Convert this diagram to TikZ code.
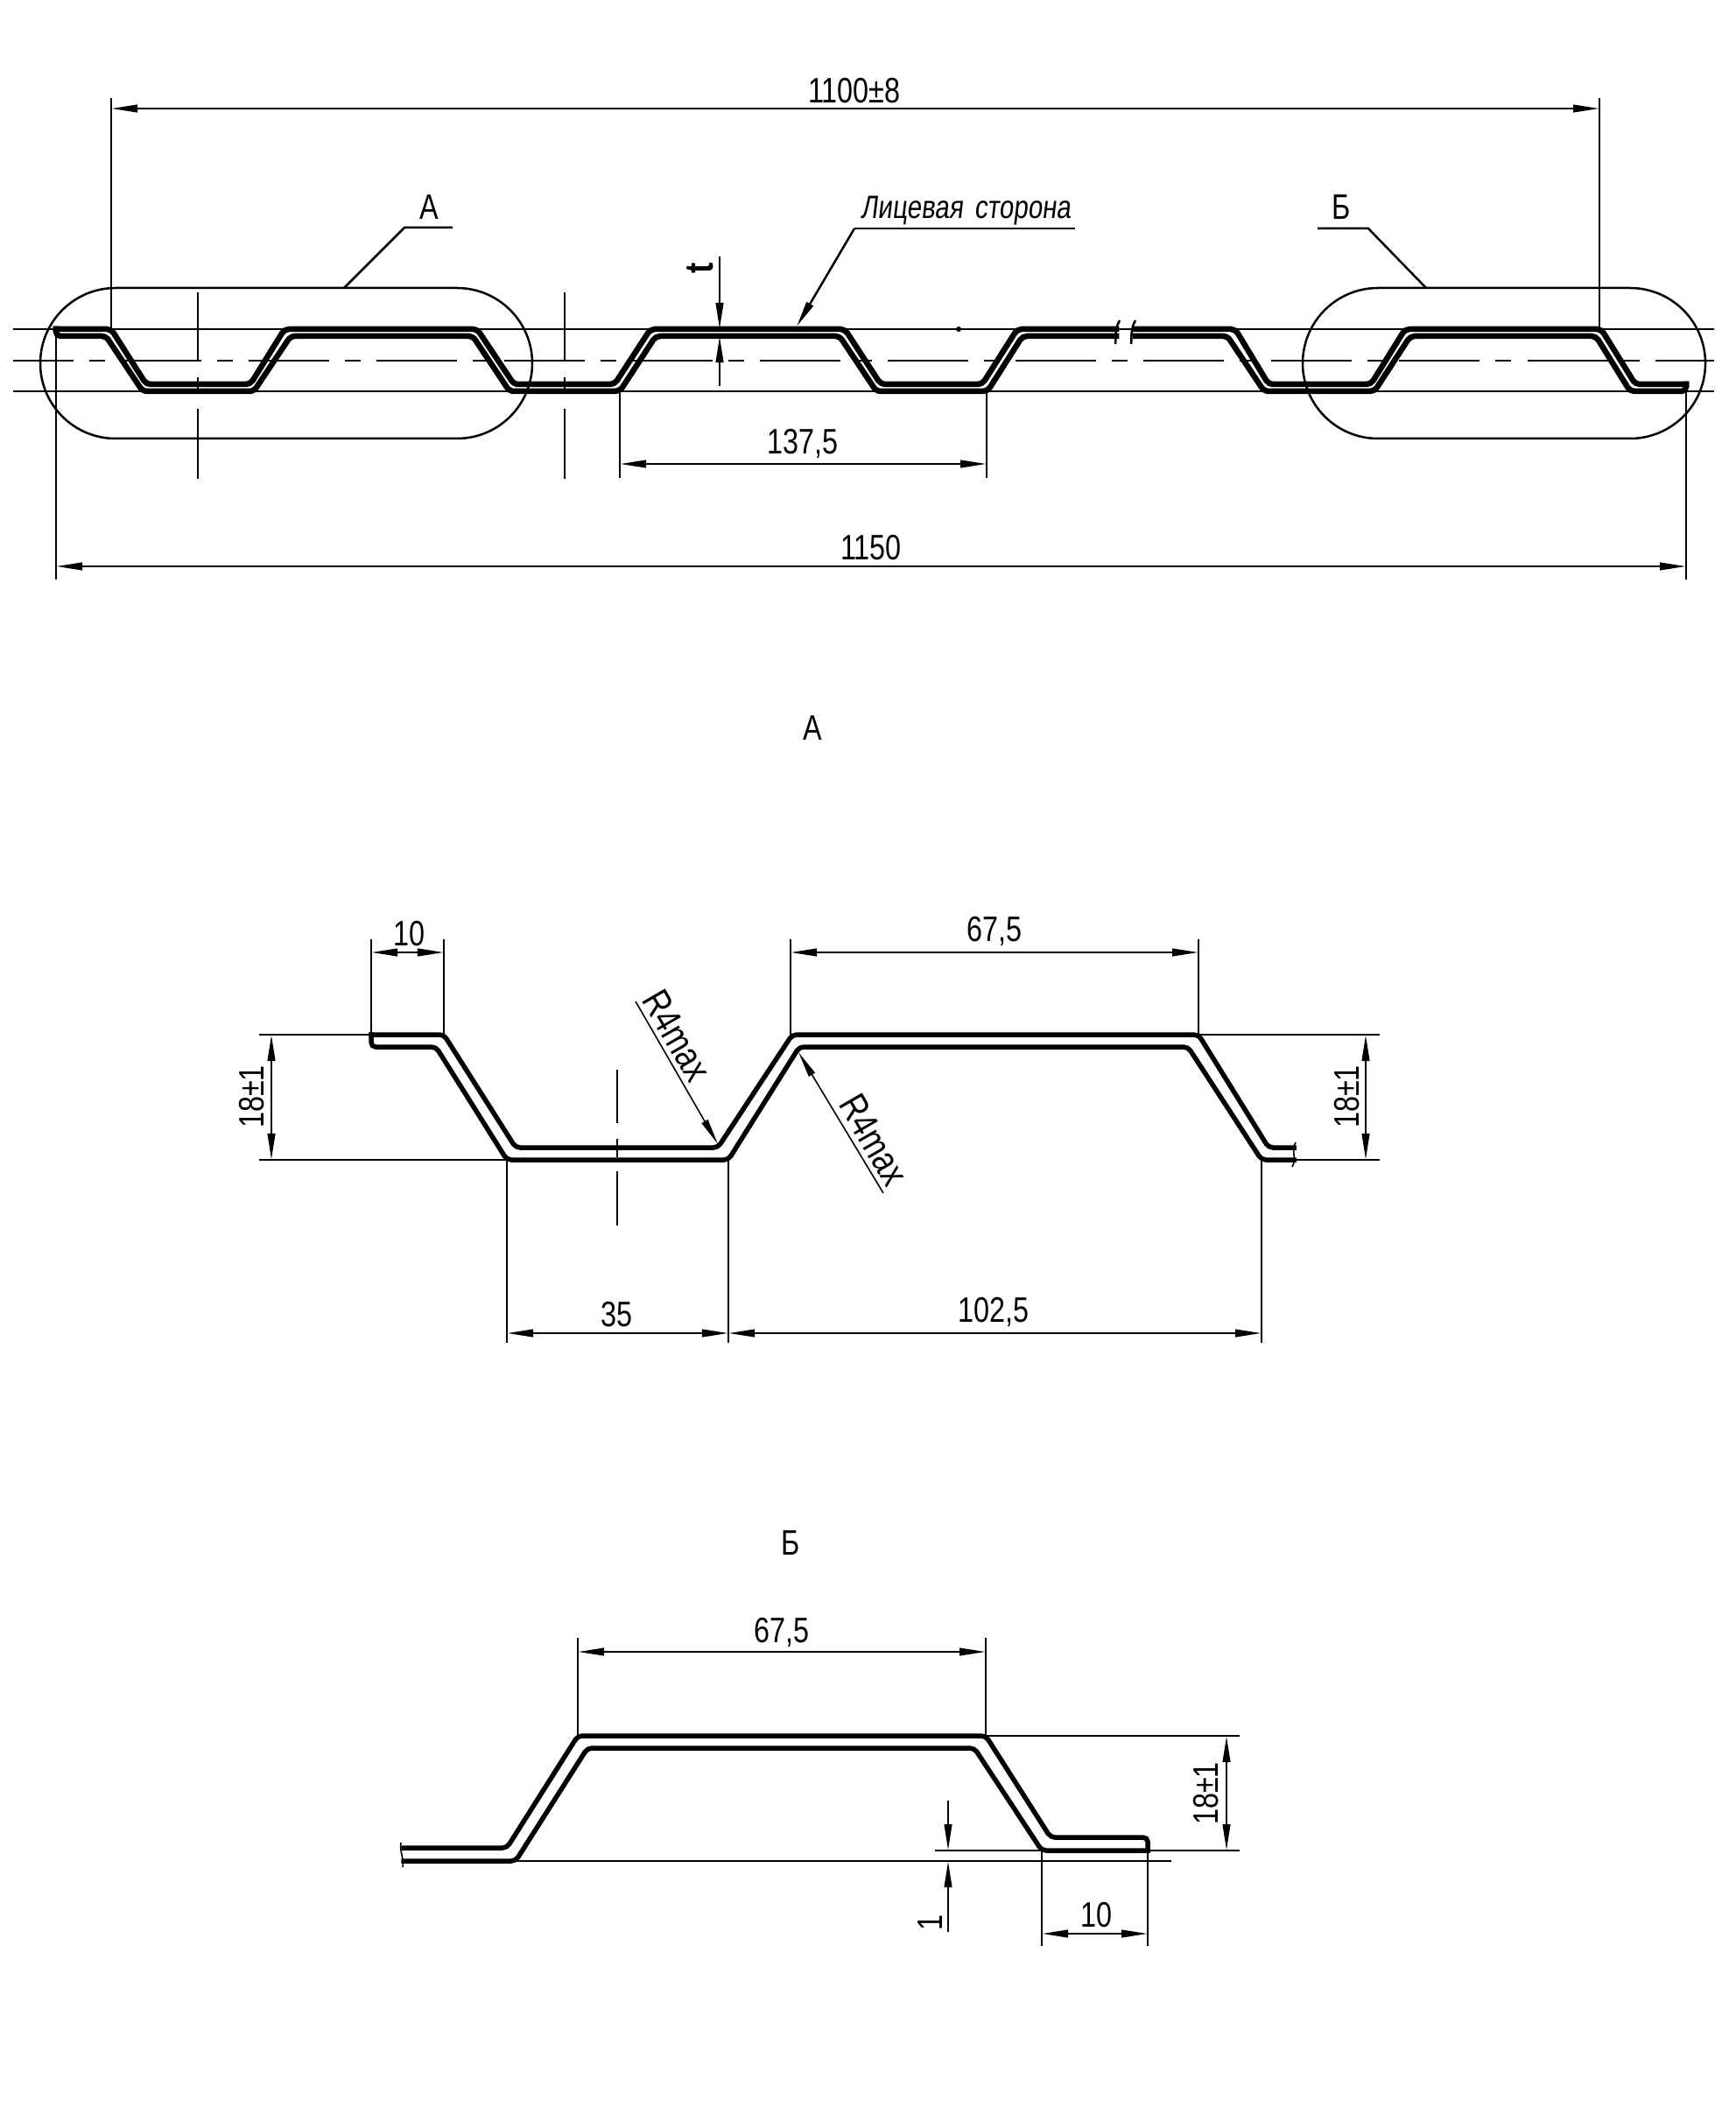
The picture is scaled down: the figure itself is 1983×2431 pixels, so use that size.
\documentclass[tikz,border=0pt]{standalone}
\usepackage{fontspec}
\usepackage{tikz}
\usetikzlibrary{arrows.meta}
\newfontfamily\gostfont[FakeStretch=0.8]{Liberation Sans}
\newfontfamily\gostslant[FakeStretch=0.8,FakeSlant=0.12,WordSpace=1.6]{Liberation Sans}

\tikzset{
	thinline/.style={line width=.025cm},
	hairline/.style={line width=.016cm},
	sheet/.style={line width=#1,rounded corners=.05cm,line cap=rect},
	sheet/.default=.055cm,
	dimline/.style={thinline,{Triangle[length=.3cm,width=.085cm]}-{Triangle[length=.3cm,width=.085cm]}},
	leaderline/.style={thinline,-{Triangle[length=.3cm,width=.085cm]}},
	radiusline/.style={hairline,-{Triangle[length=.3cm,width=.08cm]}},
	axisline/.style={thinline,dash pattern=on .92cm off .18cm on .18cm off .18cm,dash phase=.235cm},
	dimtext/.style={font=\gostfont\fontsize{11.5}{12}\selectfont,inner sep=0pt},
	radiustext/.style={font=\gostfont\fontsize{12.5}{13}\selectfont,inner sep=0pt,rotate=-60},
}

\begin{document}
\begin{tikzpicture}[x=.01cm,y=-.01cm]
	\useasboundingbox (0,0) rectangle (1983,2431);

	% dimension ends of the whole sheet
	\coordinate[] (w1) at (127,124);
	\coordinate[] (w2) at (1827,124);
	\coordinate[] (l1) at (64,647);
	\coordinate[] (l2) at (1926,647);
	\coordinate[] (p1) at (708,530);
	\coordinate[] (p2) at (1127,530);

	% thin lines along the sheet
	\draw[thinline] (15,376) -- (1958,376);
	\draw[thinline] (15,447) -- (1958,447);
	\draw[axisline] (15,412) -- (1958,412);

	% upper line of the sheet
	\draw[sheet=.065cm] (64,376) -- (127,376) -- (167,439) -- (286,439) -- (325,376) -- (545,376) -- (587,439) -- (702,439) -- (743,376) -- (965,376) -- (1006,439) -- (1122,439) -- (1162,376) -- (1275,376);
	\draw[sheet=.065cm] (1297,376) -- (1411,376) -- (1449,439) -- (1566,439) -- (1605,376) -- (1829,376) -- (1868,439) -- (1926,439);
	% lower line of the sheet
	\draw[sheet=.065cm] (64,376) -- (64,384) -- (121,384) -- (163,447) -- (290,447) -- (332,384) -- (540,384) -- (582,447) -- (708,447) -- (749,384) -- (959,384) -- (1001,447) -- (1128,447) -- (1168,384) -- (1275,384);
	\draw[sheet=.065cm] (1297,384) -- (1402,384) -- (1444,447) -- (1570,447) -- (1611,384) -- (1823,384) -- (1862,447) -- (1926,447) -- (1926,439);

	% break of the sheet
	\draw[thinline] (1279,366) .. controls (1273,376) and (1275,385) .. (1274,393);
	\draw[thinline] (1297,366) .. controls (1291,376) and (1293,385) .. (1292,393);
	\fill (1095,376) circle (3);

	% axes
	\foreach \xa in {226,645} {
		\draw[thinline] (\xa,334) -- (\xa,413);
		\draw[thinline] (\xa,431) -- (\xa,447);
		\draw[thinline] (\xa,467) -- (\xa,547);
	}

	% details marked on the sheet
	\draw[thinline,rounded corners=.86cm] (46,329) rectangle (608,501);
	\draw[thinline,rounded corners=.86cm] (1488,329) rectangle (1948,501);
	\node[dimtext] (markA) at (490,237) {А};
	\node[dimtext] (markB) at (1532,237) {Б};
	\draw[thinline] (517,260) -- (462,260) -- (393,329);
	\draw[thinline] (1505,261) -- (1563,261) -- (1629,329);

	% face side
	\node[dimtext,font=\gostslant\fontsize{10.5}{12}\selectfont] (face) at (1103,241) {Лицевая сторона};
	\coordinate[] (f1) at (910,373);
	\draw[thinline] (1228,261) -- (976,261);
	\draw[leaderline] (976,261) -- (f1);

	% thickness
	\coordinate[] (t1) at (822,376);
	\coordinate[] (t2) at (822,384);
	\draw[leaderline] (822,293) -- (t1);
	\draw[leaderline] (822,441) -- (t2);
	\node[dimtext,rotate=90,font=\gostfont\bfseries\fontsize{13}{13}\selectfont] (tlabel) at (800,306) {t};

	% sizes of the sheet
	\draw[thinline] (w1) -- (127,112) (127,376) -- (w1);
	\draw[thinline] (w2) -- (1827,112) (1827,376) -- (w2);
	\draw[dimline] (w1) -- (w2);
	\node[dimtext] (width) at (976,104) {1100±8};
	\draw[thinline] (64,376) -- (64,662);
	\draw[thinline] (1926,447) -- (1926,662);
	\draw[dimline] (l1) -- (l2);
	\node[dimtext] (length) at (995,626) {1150};
	\draw[thinline] (708,447) -- (708,546);
	\draw[thinline] (1127,447) -- (1127,546);
	\draw[dimline] (p1) -- (p2);
	\node[dimtext] (pitch) at (917,507) {137,5};

	% detail A
	\node[dimtext] (titleA) at (928,832) {А};
	\draw[sheet] (424,1182) -- (507,1182) -- (589,1311) -- (820,1311) -- (905,1182) -- (1369,1182) -- (1449,1311) -- (1478,1311);
	\draw[sheet] (424,1182) -- (424,1196) -- (498,1196) -- (579,1325) -- (832,1325) -- (913,1196) -- (1357,1196) -- (1441,1325) -- (1478,1325);
	\draw[hairline] (1480,1305) .. controls (1474,1315) and (1482,1323) .. (1476,1333);

	\draw[thinline] (705,1222) -- (705,1283);
	\draw[thinline] (705,1301) -- (705,1322);
	\draw[thinline] (705,1338) -- (705,1400);

	\coordinate[] (a1) at (424,1088);
	\coordinate[] (a2) at (507,1088);
	\coordinate[] (a3) at (903,1088);
	\coordinate[] (a4) at (1369,1088);
	\coordinate[] (a5) at (579,1523);
	\coordinate[] (a6) at (832,1523);
	\coordinate[] (a7) at (1441,1523);
	\coordinate[] (a8) at (310,1182);
	\coordinate[] (a9) at (310,1325);
	\coordinate[] (a10) at (1560,1182);
	\coordinate[] (a11) at (1560,1325);

	\draw[thinline] (424,1073) -- (424,1182) (507,1073) -- (507,1182);
	\draw[thinline] (903,1073) -- (903,1182) (1369,1073) -- (1369,1182);
	\draw[thinline] (579,1325) -- (579,1534) (832,1325) -- (832,1534) (1441,1325) -- (1441,1534);
	\draw[thinline] (296,1182) -- (424,1182) (296,1325) -- (579,1325);
	\draw[thinline] (1369,1182) -- (1576,1182) (1478,1325) -- (1576,1325);

	\draw[dimline] (a1) -- (a2);
	\draw[dimline] (a3) -- (a4);
	\draw[dimline] (a5) -- (a6);
	\draw[dimline] (a6) -- (a7);
	\draw[dimline] (a8) -- (a9);
	\draw[dimline] (a10) -- (a11);

	\node[dimtext] (a10text) at (467,1067) {10};
	\node[dimtext] (a67text) at (1136,1064) {67,5};
	\node[dimtext] (a35text) at (704,1502) {35};
	\node[dimtext] (a102text) at (1135,1499) {102,5};
	\node[dimtext,rotate=90] (a18left) at (288,1253) {18±1};
	\node[dimtext,rotate=90] (a18right) at (1539,1253) {18±1};

	\coordinate[] (r1) at (820,1307);
	\coordinate[] (r2) at (912,1202);
	\draw[radiusline] (726,1144) -- (r1);
	\draw[radiusline] (1009,1363) -- (r2);
	\node[radiustext] (r1text) at (773,1183) {R4max};
	\node[radiustext] (r2text) at (998,1302) {R4max};

	% detail B
	\node[dimtext] (titleB) at (903,1763) {Б};
	\draw[sheet] (461,2111) -- (579,2111) -- (660,1983) -- (1126,1983) -- (1200,2099) -- (1311,2099) -- (1311,2114);
	\draw[sheet] (1311,2114) -- (1190,2114) -- (1113,1997) -- (671,1997) -- (589,2126) -- (461,2126);
	\draw[hairline] (458,2105) .. controls (456,2114) and (462,2124) .. (460,2133);

	\coordinate[] (b1) at (660,1887);
	\coordinate[] (b2) at (1126,1887);
	\coordinate[] (b3) at (1401,1983);
	\coordinate[] (b4) at (1401,2114);
	\coordinate[] (b5) at (1190,2209);
	\coordinate[] (b6) at (1311,2209);
	\coordinate[] (b7) at (1083,2114);
	\coordinate[] (b8) at (1083,2126);

	\draw[thinline] (660,1871) -- (660,1983) (1126,1871) -- (1126,1983);
	\draw[thinline] (1126,1983) -- (1416,1983) (1068,2114) -- (1416,2114);
	\draw[thinline] (589,2126) -- (1338,2126);
	\draw[thinline] (1190,2114) -- (1190,2223) (1311,2114) -- (1311,2223);

	\draw[dimline] (b1) -- (b2);
	\draw[dimline] (b3) -- (b4);
	\draw[dimline] (b5) -- (b6);
	\draw[leaderline] (1083,2057) -- (b7);
	\draw[leaderline] (1083,2207) -- (b8);

	\node[dimtext] (b67text) at (893,1865) {67,5};
	\node[dimtext,rotate=90] (b18text) at (1378,2049) {18±1};
	\node[dimtext] (b10text) at (1252,2188) {10};
	\node[dimtext,rotate=90] (b1text) at (1063,2196) {1};
\end{tikzpicture}
\end{document}
